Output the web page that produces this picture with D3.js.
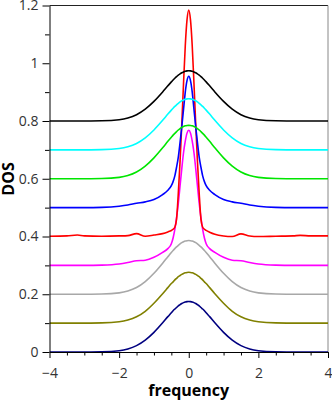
<!DOCTYPE html>
<html>
<head>
<meta charset="utf-8">
<script src="https://cdn.jsdelivr.net/npm/d3@7"></script>
<style>
  body { margin: 0; background: #fff; }
  svg { display: block; }
  .tick text { font-family: "Open Sans", sans-serif; font-size: 14px; fill: #333; }
  .title { font-family: "Open Sans", sans-serif; font-size: 16px; font-weight: bold; fill: #000; }
</style>
</head>
<body>
<svg width="332" height="402"></svg>
<script>
// frequency grid shared by all curves
var freq = [-4, -3.5, -3.2, -3, -2.5, -2, -1.75, -1.5, -1.25, -1, -0.75, -0.6, -0.5, -0.45, -0.4, -0.35, -0.3, -0.25, -0.2, -0.15, -0.1, -0.05,
  0, 0.05, 0.1, 0.15, 0.2, 0.25, 0.3, 0.35, 0.4, 0.45, 0.5, 0.6, 0.75, 1, 1.25, 1.5, 1.75, 2, 2.5, 3, 3.2, 3.5, 4];

// DOS of each curve (before the vertical shift)
var dosNavy = [0, 0, 0, 0.0001, 0.0007, 0.0045, 0.0105, 0.022, 0.041, 0.068, 0.101, 0.1225, 0.136, 0.143, 0.149, 0.154, 0.160, 0.164, 0.168, 0.171, 0.1733, 0.1745,
  0.175, 0.1745, 0.1733, 0.171, 0.168, 0.164, 0.160, 0.154, 0.149, 0.143, 0.136, 0.1225, 0.101, 0.068, 0.041, 0.022, 0.0105, 0.0045, 0.0007, 0.0001, 0, 0, 0];
var dosOlive = [0, 0, 0, 0.0001, 0.0007, 0.0046, 0.0106, 0.022, 0.041, 0.069, 0.102, 0.123, 0.137, 0.143, 0.150, 0.155, 0.161, 0.165, 0.169, 0.172, 0.1742, 0.1755,
  0.176, 0.1755, 0.1742, 0.172, 0.169, 0.165, 0.161, 0.155, 0.150, 0.143, 0.137, 0.123, 0.102, 0.069, 0.041, 0.022, 0.0106, 0.0046, 0.0007, 0.0001, 0, 0, 0];
var dosGray = [0, 0, 0, 0.0001, 0.0007, 0.0048, 0.0112, 0.0233, 0.0437, 0.0725, 0.1075, 0.130, 0.1447, 0.1516, 0.158, 0.164, 0.1696, 0.1745, 0.1786, 0.1817, 0.1841, 0.1854,
  0.186, 0.1854, 0.1841, 0.1817, 0.1786, 0.1745, 0.1696, 0.164, 0.158, 0.1516, 0.1447, 0.130, 0.1075, 0.0725, 0.0437, 0.0233, 0.0112, 0.0048, 0.0007, 0.0001, 0, 0, 0];
var dosMagenta = [0, 0, 0, 0, 0.001, 0.005, 0.010, 0.016, 0.018, 0.028, 0.045, 0.058, 0.075, 0.095, 0.125, 0.165, 0.215, 0.275, 0.335, 0.39, 0.43, 0.458,
  0.468, 0.458, 0.43, 0.39, 0.335, 0.275, 0.215, 0.165, 0.125, 0.095, 0.075, 0.058, 0.045, 0.028, 0.018, 0.016, 0.010, 0.005, 0.001, 0, 0, 0, 0];
var dosRed = [0.001, 0.002, 0.005, 0.002, 0.001, 0.002, 0.003, 0.010, 0.001, 0.005, 0.010, 0.016, 0.021, 0.025, 0.032, 0.06, 0.15, 0.26, 0.39, 0.53, 0.66, 0.75,
  0.784, 0.75, 0.66, 0.53, 0.39, 0.26, 0.15, 0.06, 0.032, 0.025, 0.021, 0.015, 0.008, 0.002, 0, 0.009, 0.002, 0, 0.001, 0.002, 0.004, 0.002, 0.002];
var dosBlue = [0, 0, 0, 0, 0.001, 0.005, 0.009, 0.015, 0.02, 0.028, 0.045, 0.06, 0.076, 0.09, 0.11, 0.14, 0.175, 0.225, 0.28, 0.34, 0.40, 0.44,
  0.455, 0.44, 0.40, 0.34, 0.28, 0.225, 0.175, 0.14, 0.11, 0.09, 0.076, 0.06, 0.045, 0.028, 0.02, 0.015, 0.009, 0.005, 0.001, 0, 0, 0, 0];
var dosGreen = [0, 0, 0, 0.0001, 0.0007, 0.0048, 0.0111, 0.0232, 0.0435, 0.0722, 0.107, 0.1295, 0.144, 0.151, 0.1573, 0.1632, 0.1688, 0.1737, 0.1778, 0.1808, 0.1832, 0.1845,
  0.185, 0.1845, 0.1832, 0.1808, 0.1778, 0.1737, 0.1688, 0.1632, 0.1573, 0.151, 0.144, 0.1295, 0.107, 0.0722, 0.0435, 0.0232, 0.0111, 0.0048, 0.0007, 0.0001, 0, 0, 0];
var dosCyan = [0, 0, 0, 0.0001, 0.0007, 0.0046, 0.0106, 0.0221, 0.0416, 0.069, 0.1023, 0.1239, 0.1377, 0.1443, 0.1505, 0.1561, 0.1614, 0.166, 0.170, 0.1729, 0.1752, 0.1765,
  0.177, 0.1765, 0.1752, 0.1729, 0.170, 0.166, 0.1614, 0.1561, 0.1505, 0.1443, 0.1377, 0.1239, 0.1023, 0.069, 0.0416, 0.0221, 0.0106, 0.0046, 0.0007, 0.0001, 0, 0, 0];
var dosBlack = [0, 0, 0, 0.0001, 0.0007, 0.0045, 0.0104, 0.0218, 0.0409, 0.0679, 0.1006, 0.1218, 0.1354, 0.1418, 0.1479, 0.1535, 0.1587, 0.1632, 0.167, 0.170, 0.1723, 0.1735,
  0.174, 0.1735, 0.1723, 0.170, 0.167, 0.1632, 0.1587, 0.1535, 0.1479, 0.1418, 0.1354, 0.1218, 0.1006, 0.0679, 0.0409, 0.0218, 0.0104, 0.0045, 0.0007, 0.0001, 0, 0, 0];

var offsets = [0, 0.1, 0.2, 0.3, 0.4, 0.5, 0.6, 0.7, 0.8];
var curves = [dosNavy, dosOlive, dosGray, dosMagenta, dosRed, dosBlue, dosGreen, dosCyan, dosBlack];
var colors = ["#000080", "#808000", "#a8a8a8", "#ff00ff", "#ff0000", "#0000ff", "#00e600", "#00ffff", "#000000"];

var xMajor = [-4, -2, 0, 2, 4];
var xMinor = [-3.5, -3, -2.5, -1.5, -1, -0.5, 0.5, 1, 1.5, 2.5, 3, 3.5];
var yMajor = [0, 0.2, 0.4, 0.6, 0.8, 1, 1.2];
var yMinor = [0.1, 0.3, 0.5, 0.7, 0.9, 1.1];

var svg = d3.select("svg");
var plotL = 49.5, plotR = 328, plotT = 5.5, plotB = 352;

var x = d3.scaleLinear().domain([-4, 4]).range([plotL, plotR]);
var y = d3.scaleLinear().domain([0, 1.2]).range([plotB, plotT]);

svg.append("clipPath").attr("id", "clip")
    .append("rect")
    .attr("x", plotL).attr("y", plotT)
    .attr("width", plotR - plotL).attr("height", plotB - plotT);

// frame: top and right
svg.append("line")
    .attr("x1", plotL).attr("x2", plotR).attr("y1", plotT).attr("y2", plotT)
    .attr("stroke", "#222").attr("stroke-width", 1);
svg.append("line")
    .attr("x1", plotR).attr("x2", plotR).attr("y1", plotT).attr("y2", plotB)
    .attr("stroke", "#888").attr("stroke-width", 1);

var line = d3.line()
    .curve(d3.curveMonotoneX)
    .x(function (d) { return x(d.f); })
    .y(function (d) { return y(d.v); });

var g = svg.append("g").attr("clip-path", "url(#clip)");
curves.forEach(function (c, i) {
    var pts = freq.map(function (f, j) { return {f: f, v: c[j] + offsets[i]}; });
    g.append("path")
        .datum(pts)
        .attr("fill", "none")
        .attr("stroke", colors[i])
        .attr("stroke-width", 1.6)
        .attr("d", line);
});

// axes
svg.append("g")
    .attr("transform", "translate(0," + plotB + ")")
    .call(d3.axisBottom(x).tickValues(xMinor).tickSize(3.5).tickFormat(""))
    .call(function (a) { a.select(".domain").remove(); });
svg.append("g")
    .attr("transform", "translate(0," + plotB + ")")
    .call(d3.axisBottom(x).tickValues(xMajor).tickSize(6).tickSizeOuter(0).tickPadding(10));

svg.append("g")
    .attr("transform", "translate(" + plotL + ",0)")
    .call(d3.axisLeft(y).tickValues(yMinor).tickSize(4.5).tickFormat(""))
    .call(function (a) { a.select(".domain").remove(); });
svg.append("g")
    .attr("transform", "translate(" + plotL + ",0)")
    .call(d3.axisLeft(y).tickValues(yMajor).tickSize(7).tickSizeOuter(0).tickPadding(4).tickFormat(d3.format("~g")));

svg.selectAll(".domain, .tick line").attr("stroke", "#000");

svg.append("text")
    .attr("class", "title")
    .attr("x", (plotL + plotR) / 2)
    .attr("y", 396)
    .attr("text-anchor", "middle")
    .text("frequency");

svg.append("text")
    .attr("class", "title")
    .attr("transform", "translate(13.5,179) rotate(-90)")
    .attr("text-anchor", "middle")
    .text("DOS");
</script>
</body>
</html>
